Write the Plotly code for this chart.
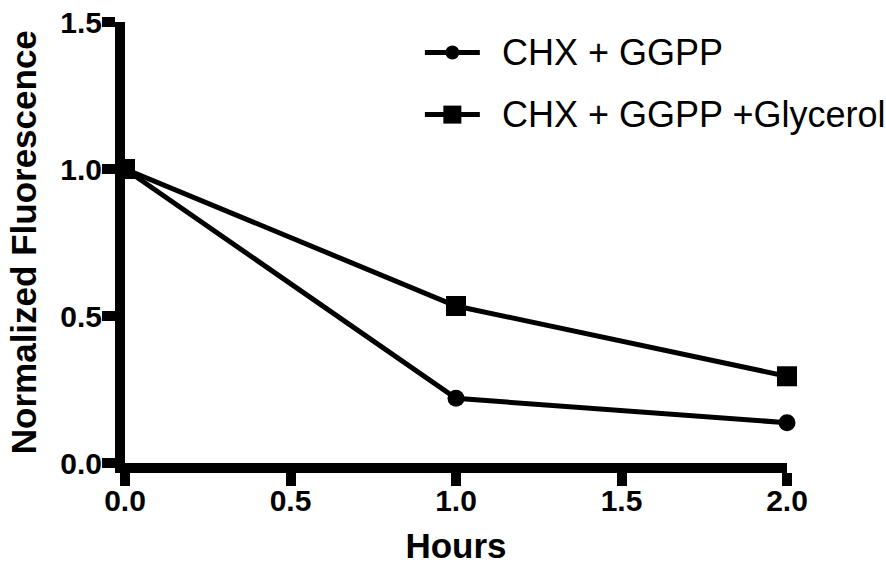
import plotly.graph_objects as go

# Time points (hours) and normalized fluorescence for each treatment
hours = [0.0, 1.0, 2.0]
chx_ggpp = [1.0, 0.22, 0.137]
chx_ggpp_glycerol = [1.0, 0.534, 0.295]

series_names = ["CHX + GGPP", "CHX + GGPP +Glycerol"]
series_symbols = ["circle", "square"]

x_ticks = [0.0, 0.5, 1.0, 1.5, 2.0]
y_ticks = [0.0, 0.5, 1.0, 1.5]

FONT = "Liberation Sans, Arial, Helvetica, sans-serif"

fig = go.Figure()
fig.add_trace(go.Scatter(
    x=hours, y=chx_ggpp, name=series_names[0], mode="lines+markers",
    line=dict(color="black", width=5),
    marker=dict(symbol="circle", size=17, color="black"),
    cliponaxis=False,
))
fig.add_trace(go.Scatter(
    x=hours, y=chx_ggpp_glycerol, name=series_names[1], mode="lines+markers",
    line=dict(color="black", width=5),
    marker=dict(symbol="square", size=20, color="black"),
    cliponaxis=False,
))

axis_common = dict(
    showline=True, linecolor="black", linewidth=10,
    ticks="outside", ticklen=13, tickwidth=10, tickcolor="black",
    showgrid=False, zeroline=False, automargin=False,
    tickfont=dict(family=FONT, size=30, color="black", weight="bold"),
)

fig.update_xaxes(
    range=[0, 2], tickvals=x_ticks, ticktext=[f"{v:.1f}" for v in x_ticks],
    ticklabelstandoff=-11,
    title=dict(text="Hours", font=dict(family=FONT, size=35, color="black", weight="bold"), standoff=26),
    **axis_common,
)
fig.update_yaxes(
    range=[0, 1.5], tickvals=y_ticks, ticktext=[f"{v:.1f}" for v in y_ticks],
    ticklabelstandoff=-6,
    **axis_common,
)

# Y-axis title placed as a rotated label left of the tick labels
fig.add_annotation(xref="paper", yref="paper", x=-0.153, y=0.5,
                   xanchor="center", yanchor="middle", showarrow=False,
                   textangle=-90, text="Normalized Fluorescence",
                   font=dict(family=FONT, size=35, color="black", weight="bold"))

# Legend drawn as a key: short line with the series marker, then the label
legend_rows_y = [0.931, 0.79]     # paper coordinates of each legend row
key_x0, key_x1, text_x = 0.453, 0.536, 0.566
for name, symbol, ly in zip(series_names, series_symbols, legend_rows_y):
    fig.add_shape(type="line", xref="paper", yref="paper",
                  x0=key_x0, x1=key_x1, y0=ly, y1=ly,
                  line=dict(color="black", width=5))
    half = 7 if symbol == "circle" else 9
    fig.add_shape(type="circle" if symbol == "circle" else "rect",
                  xref="paper", yref="paper",
                  xsizemode="pixel", ysizemode="pixel",
                  xanchor=(key_x0 + key_x1) / 2, yanchor=ly,
                  x0=-half, x1=half, y0=-half, y1=half,
                  line=dict(color="black", width=0), fillcolor="black")
    fig.add_annotation(xref="paper", yref="paper", x=text_x, y=ly,
                       xanchor="left", yanchor="middle", showarrow=False,
                       text=name, font=dict(family=FONT, size=36, color="black"))

fig.update_layout(
    width=886, height=565,
    margin=dict(l=125, r=99, t=22, b=102),
    plot_bgcolor="white", paper_bgcolor="white",
    font=dict(family=FONT, color="black"),
    showlegend=False,
)

fig.write_html("out.html")
